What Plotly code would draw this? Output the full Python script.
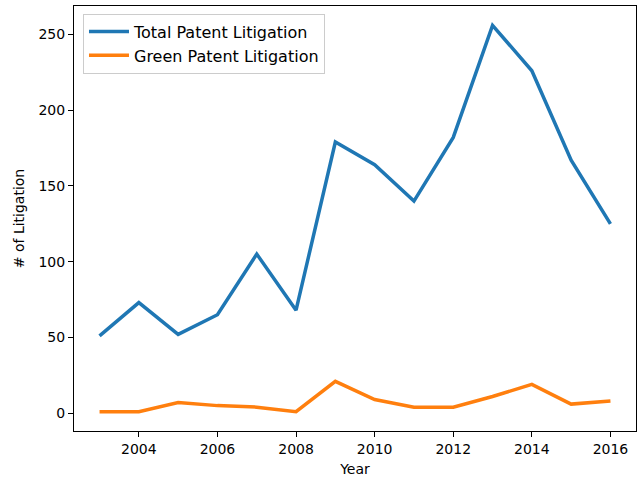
import plotly.graph_objects as go

years = list(range(2003, 2017))
total_litigation = [51, 73, 52, 65, 105, 68, 179, 164, 140, 182, 256, 226, 167, 125]
green_litigation = [1, 1, 7, 5, 4, 1, 21, 9, 4, 4, 11, 19, 6, 8]
x_ticks = [2004, 2006, 2008, 2010, 2012, 2014, 2016]
y_ticks = [0, 50, 100, 150, 200, 250]

fig = go.Figure()
fig.add_trace(go.Scatter(x=years, y=total_litigation, mode="lines",
                         name="Total Patent Litigation",
                         line=dict(color="#1f77b4", width=3.5)))
fig.add_trace(go.Scatter(x=years, y=green_litigation, mode="lines",
                         name="Green Patent Litigation",
                         line=dict(color="#ff7f0e", width=3.5)))

axis_common = dict(showline=True, linecolor="black", linewidth=1, mirror=True,
                   ticks="outside", ticklen=5, tickcolor="black", tickwidth=1,
                   showgrid=False, zeroline=False,
                   tickfont=dict(family="DejaVu Sans", size=14, color="black"))

fig.update_xaxes(range=[2002.35, 2016.65], tickvals=x_ticks,
                 title=dict(text="Year", font=dict(family="DejaVu Sans", size=14, color="black"), standoff=8),
                 **axis_common)
fig.update_yaxes(range=[-11.75, 268.75], tickvals=y_ticks,
                 title=dict(text="# of Litigation", font=dict(family="DejaVu Sans", size=14, color="black"), standoff=10),
                 **axis_common)

fig.update_layout(
    width=638, height=478,
    margin=dict(l=74, r=2, t=6, b=47),
    plot_bgcolor="white", paper_bgcolor="white",
    font=dict(family="DejaVu Sans", size=14, color="black"),
    legend=dict(x=0.016, y=0.982, xanchor="left", yanchor="top",
                bgcolor="rgba(255,255,255,0.8)", bordercolor="#cccccc", borderwidth=1,
                font=dict(family="DejaVu Sans", size=16, color="black"),
                tracegroupgap=0, itemwidth=40),
    showlegend=True,
)

fig.write_html("out.html", config={"displayModeBar": False},
               post_script="document.body.style.margin='0';document.body.style.overflow='hidden';")
